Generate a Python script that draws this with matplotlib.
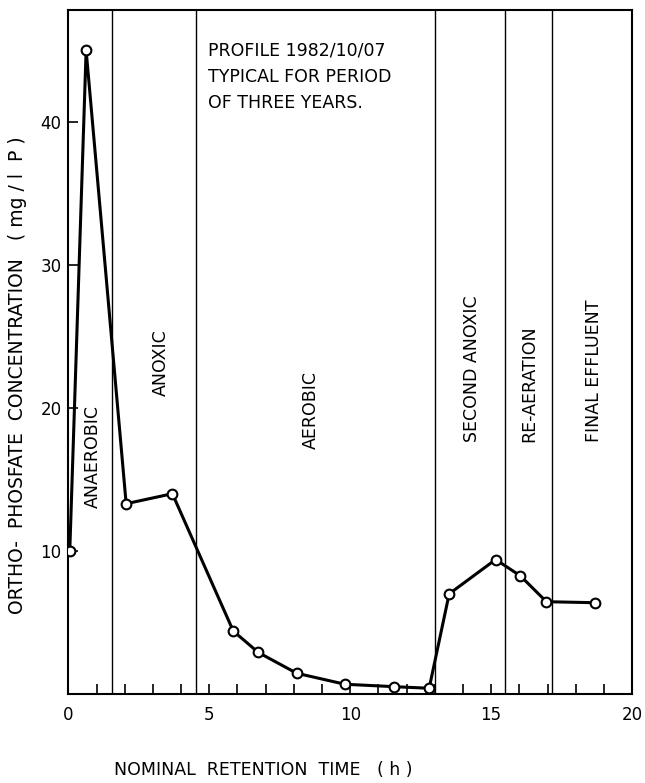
import matplotlib.pyplot as plt
from matplotlib.ticker import MultipleLocator

### data
time_h = [0.05, 0.63, 2.05, 3.69, 5.85, 6.74, 8.1, 9.81, 11.56, 12.8, 13.51, 15.16, 16.04, 16.96, 18.67]
phosphate = [10.0, 45.0, 13.3, 14.0, 4.4, 2.9, 1.45, 0.68, 0.51, 0.4, 7.0, 9.4, 8.25, 6.45, 6.38]

zone_bounds = [1.55, 4.52, 13.0, 15.5, 17.15]
zone_names = ['ANAEROBIC', 'ANOXIC', 'AEROBIC', 'SECOND ANOXIC', 'RE-AERATION', 'FINAL EFFLUENT']
zone_label_x = [0.86, 3.27, 8.59, 14.33, 16.35, 18.66]
zone_label_y = [13.0, 20.8, 17.1, 17.6, 17.6, 17.6]

### -------------------------------------------------------------------------------------------------------------------

plt.rcParams['font.family'] = ['DejaVu Sans']

fig = plt.figure(figsize=(6.45, 7.83), dpi=100)
ax = fig.add_axes([0.106, 0.1137, 0.874, 0.8733])

for xb in zone_bounds:
    ax.axvline(xb, color='black', lw=1.0)

ax.plot(time_h, phosphate, color='black', lw=2.2, marker='o', ms=7,
        mfc='white', mec='black', mew=1.5, zorder=3)

for name, xl, yl in zip(zone_names, zone_label_x, zone_label_y):
    ax.text(xl, yl, name, rotation=90, ha='center', va='bottom', fontsize=12.5)

ax.text(4.95, 45.6, 'PROFILE 1982/10/07\nTYPICAL FOR PERIOD\nOF THREE YEARS.',
        ha='left', va='top', fontsize=12.5, linespacing=1.6)

ax.set_xlim(0, 20)
ax.set_ylim(0, 47.8)
ax.xaxis.set_major_locator(MultipleLocator(5))
ax.xaxis.set_minor_locator(MultipleLocator(1))
ax.set_yticks([10, 20, 30, 40])
ax.tick_params(axis='both', which='both', direction='in', length=7, width=1.2, labelsize=12)
ax.tick_params(axis='x', pad=9)
ax.tick_params(axis='y', pad=5)
for s in ax.spines.values():
    s.set_linewidth(1.5)

fig.text(0.027, 0.521, 'ORTHO-  PHOSFATE  CONCENTRATION   ( mg / l  P )',
         rotation=90, ha='center', va='center', fontsize=13.5)
fig.text(0.408, 0.017, 'NOMINAL  RETENTION  TIME   ( h )',
         ha='center', va='center', fontsize=12.5)

fig.savefig('out.png', dpi=100)
